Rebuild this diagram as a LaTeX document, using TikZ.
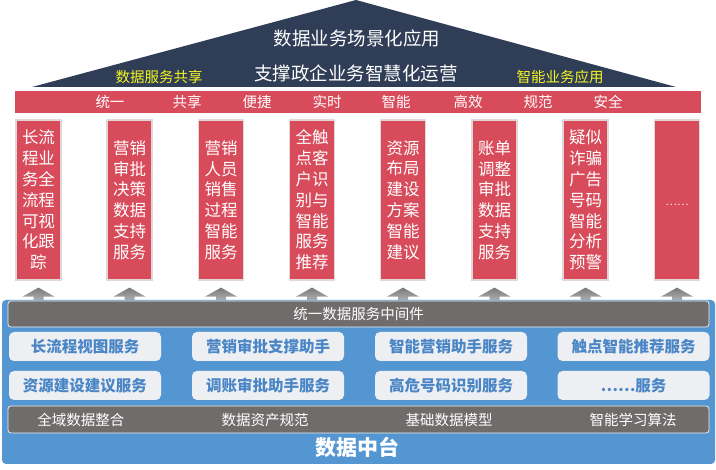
\documentclass[tikz,border=0pt]{standalone}
\usepackage{fontspec}
\setmainfont{Noto Sans CJK SC}
\usetikzlibrary{calc}
\definecolor{roofc}{HTML}{2F3E56}
\definecolor{yelc}{HTML}{F4F422}
\definecolor{redc}{HTML}{D84B5B}
\definecolor{bluec}{HTML}{5496D2}
\definecolor{greyc}{HTML}{716C6C}
\definecolor{boxc}{HTML}{EEEFF3}
\definecolor{boxtext}{HTML}{4A86C6}
\definecolor{pillarline}{HTML}{E2D6D8}
\definecolor{arrtop}{HTML}{787878}
\definecolor{arrbot}{HTML}{C4C4C4}
\begin{document}
\begin{tikzpicture}[x=1pt,y=-1pt,
  rooftext/.style={text=white, font=\fontsize{18.5}{20}\selectfont, inner sep=0pt},
  yeltext/.style={text=yelc, font=\fontsize{14.5}{16}\selectfont, inner sep=0pt},
  bartext/.style={text=white, font=\fontsize{14.5}{16}\selectfont, inner sep=0pt},
  pillar/.style={fill=redc, draw=pillarline, line width=1.2pt, minimum width=45pt, minimum height=160pt,
    inner sep=0pt, text=white, align=center, font=\fontsize{16.5}{20.8}\selectfont},
  greybar/.style={fill=greyc, draw=white!85!gray, line width=0.8pt, rounded corners=3pt,
    minimum width=701pt, inner sep=0pt, text=white, font=\fontsize{14.5}{16}\selectfont},
  svcbox/.style={fill=boxc, rounded corners=5pt, minimum width=152pt, minimum height=29pt, inner sep=0pt,
    text=boxtext, font=\bfseries\fontsize{15.5}{17}\selectfont},
  greytext/.style={text=white, font=\fontsize{14.5}{16}\selectfont, inner sep=0pt},
  uparrow/.style={shading=axis, top color=arrtop, bottom color=arrbot, draw=none}
]
\useasboundingbox (0,0) rectangle (716,470);
\fill[white] (0,0) rectangle (716,470);

% roof
\fill[roofc] (32,87) -- (356,0) -- (676,87) -- cycle;
\node[rooftext] (r1) at (357,38) {数据业务场景化应用};
\node[rooftext] (r2) at (356,73) {支撑政企业务智慧化运营};
\node[yeltext] (y1) at (159,77) {数据服务共享};
\node[yeltext] (y2) at (560,77) {智能业务应用};

% red bar
\fill[redc] (15,91) rectangle (701,113);
\node[bartext] (b1) at (110,102) {统一};
\node[bartext] (b2) at (187,102) {共享};
\node[bartext] (b3) at (257,102) {便捷};
\node[bartext] (b4) at (327,102) {实时};
\node[bartext] (b5) at (396,102) {智能};
\node[bartext] (b6) at (468,102) {高效};
\node[bartext] (b7) at (538,102) {规范};
\node[bartext] (b8) at (608,102) {安全};

% pillars
\node[pillar] (p1) at (38.5,200) {长流\\程业\\务全\\流程\\可视\\化跟\\踪};
\node[pillar] (p2) at (129.5,200) {营销\\审批\\决策\\数据\\支持\\服务};
\node[pillar] (p3) at (221,200) {营销\\人员\\销售\\过程\\智能\\服务};
\node[pillar] (p4) at (312,200) {全触\\点客\\户识\\别与\\智能\\服务\\推荐};
\node[pillar] (p5) at (403,200) {资源\\布局\\建设\\方案\\智能\\建议};
\node[pillar] (p6) at (494.5,200) {账单\\调整\\审批\\数据\\支持\\服务};
\node[pillar] (p7) at (585.5,200) {疑似\\诈骗\\广告\\号码\\智能\\分析\\预警};
\node[pillar] (p8) at (677,200) {};
\node[text=white!90!red, font=\fontsize{11}{12}\selectfont, inner sep=0pt] (p8t) at (677,205) {……};

% arrows
\foreach \p in {p1,p2,p3,p4,p5,p6,p7,p8}{
  \path[uparrow] ($(\p.south)+(0,7)$) -- ++(16,9) -- ++(-11,0) -- ++(0,8) -- ++(-10,0) -- ++(0,-8) -- ++(-11,0) -- cycle;
}

% platform
\fill[bluec, rounded corners=4pt] (2,300) rectangle (715,464);
\node[greybar, minimum height=26pt] (mw) at (358.5,314) {统一数据服务中间件};

\node[svcbox] (s1) at (85,346.5) {长流程视图服务};
\node[svcbox] (s2) at (268,346.5) {营销审批支撑助手};
\node[svcbox] (s3) at (451,346.5) {智能营销助手服务};
\node[svcbox] (s4) at (633.5,346.5) {触点智能推荐服务};
\node[svcbox] (s5) at (85,385.5) {资源建设建议服务};
\node[svcbox] (s6) at (268,385.5) {调账审批助手服务};
\node[svcbox] (s7) at (451,385.5) {高危号码识别服务};
\node[svcbox] (s8) at (633.5,385.5) {……服务};

\node[greybar, minimum height=27pt] (bb) at (358.5,419.5) {};
\node[greytext] (g1) at (81,420) {全域数据整合};
\node[greytext] (g2) at (265,420) {数据资产规范};
\node[greytext] (g3) at (449,420) {基础数据模型};
\node[greytext] (g4) at (633,420) {智能学习算法};

\node[text=white, font=\bfseries\fontsize{21}{23}\selectfont, inner sep=0pt] (dz) at (357,447) {数据中台};
\end{tikzpicture}
\end{document}
